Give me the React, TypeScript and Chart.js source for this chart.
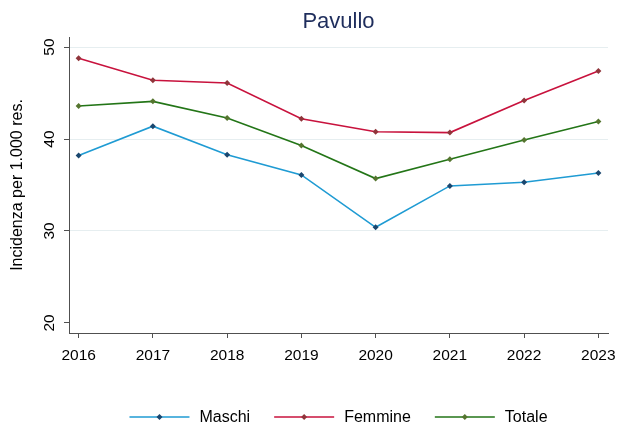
import React, { useEffect, useRef } from "react";
import { Chart, registerables } from "chart.js";

Chart.register(...registerables);

const years = [2016, 2017, 2018, 2019, 2020, 2021, 2022, 2023];
const maschi = [38.2, 41.4, 38.3, 36.1, 30.4, 34.9, 35.3, 36.3];
const femmine = [48.8, 46.4, 46.1, 42.2, 40.8, 40.7, 44.2, 47.4];
const totale = [43.6, 44.1, 42.3, 39.3, 35.7, 37.8, 39.9, 41.9];
const yTicks = [20, 30, 40, 50];
const seriesLabels = ["Maschi", "Femmine", "Totale"];
const titleText = "Pavullo";
const yTitle = "Incidenza per 1.000 res.";

const FONT = '"Liberation Sans", Arial, Helvetica, sans-serif';
const lineColors = ["#1f9bd3", "#c8123d", "#237517"];
const markerColors = ["#1a476f", "#90353b", "#55752f"];
const axisColor = "#505050";

const textPlugin = {
  id: "customText",
  afterDraw(chart: any) {
    const ctx = chart.ctx;
    const ca = chart.chartArea;
    const ys = chart.scales.y;
    const cx = (ca.left + ca.right) / 2;
    ctx.save();
    // title
    ctx.fillStyle = "#1e2d5c";
    ctx.font = `22px ${FONT}`;
    ctx.textAlign = "center";
    ctx.textBaseline = "middle";
    ctx.fillText(titleText, cx, 22);
    // rotated y tick labels
    ctx.fillStyle = "#000";
    ctx.font = `15.5px ${FONT}`;
    yTicks.forEach((v) => {
      const py = ys.getPixelForValue(v);
      ctx.save();
      ctx.translate(ca.left - 19, py);
      ctx.rotate(-Math.PI / 2);
      ctx.fillText(String(v), 0, 0);
      ctx.restore();
    });
    // legend
    ctx.font = `16px ${FONT}`;
    ctx.textAlign = "left";
    const iconW = 60;
    const gapText = 10;
    const gapItem = 24;
    const items = chart.data.datasets.map((d: any, i: number) => ({
      label: d.label,
      line: d.borderColor,
      marker: d.pointBackgroundColor,
      w: iconW + gapText + ctx.measureText(d.label).width,
      i,
    }));
    const total = items.reduce((a: number, it: any) => a + it.w, 0) + gapItem * (items.length - 1);
    let x = cx - total / 2;
    const ly = 417;
    items.forEach((it: any) => {
      ctx.strokeStyle = it.line;
      ctx.lineWidth = 1.6;
      ctx.beginPath();
      ctx.moveTo(x, ly);
      ctx.lineTo(x + iconW, ly);
      ctx.stroke();
      ctx.fillStyle = it.marker;
      const mx = x + iconW / 2;
      ctx.beginPath();
      ctx.moveTo(mx, ly - 3);
      ctx.lineTo(mx + 3, ly);
      ctx.lineTo(mx, ly + 3);
      ctx.lineTo(mx - 3, ly);
      ctx.closePath();
      ctx.fill();
      ctx.fillStyle = "#000";
      ctx.fillText(it.label, x + iconW + gapText, ly + 1);
      x += it.w + gapItem;
    });
    ctx.restore();
  },
};

export default function App() {
  const ref = useRef<HTMLCanvasElement | null>(null);
  useEffect(() => {
    if (!ref.current) return;
    const series = [maschi, femmine, totale];
    const chart = new Chart(ref.current, {
      type: "line",
      data: {
        datasets: series.map((s, i) => ({
          label: seriesLabels[i],
          data: s.map((v, j) => ({ x: years[j], y: v })),
          borderColor: lineColors[i],
          backgroundColor: markerColors[i],
          borderWidth: 1.6,
          pointStyle: "rectRot",
          pointRadius: 3,
          pointBorderWidth: 0,
          pointBackgroundColor: markerColors[i],
          tension: 0,
        })),
      },
      options: {
        animation: false,
        responsive: true,
        maintainAspectRatio: false,
        layout: { padding: { left: 4, right: 9, top: 37, bottom: 0 } },
        plugins: {
          title: { display: false },
          tooltip: { enabled: false },
          legend: { display: false },
        },
        scales: {
          x: {
            type: "linear",
            min: 2015.87,
            max: 2023.13,
            afterBuildTicks: (s: any) => {
              s.ticks = years.map((v) => ({ value: v }));
            },
            afterFit: (s: any) => {
              s.height = 97;
              s.paddingLeft = 0;
              s.paddingRight = 0;
            },
            ticks: {
              color: "#000",
              font: { family: FONT, size: 15.5 },
              padding: 8,
              maxRotation: 0,
              autoSkip: false,
              callback: (v: any) => String(v),
            },
            grid: {
              drawOnChartArea: false,
              drawTicks: true,
              tickLength: 5,
              tickColor: axisColor,
              tickWidth: 1,
            },
            border: { color: axisColor, width: 1 },
          },
          y: {
            min: 18.9,
            max: 51.1,
            afterBuildTicks: (s: any) => {
              s.ticks = yTicks.map((v) => ({ value: v }));
            },
            afterFit: (s: any) => {
              s.width = 65;
            },
            ticks: { display: false },
            title: {
              display: true,
              text: yTitle,
              color: "#000",
              font: { family: FONT, size: 16 },
              padding: { top: 4, bottom: 0 },
            },
            grid: {
              color: (c: any) => (c.tick && c.tick.value === 20 ? "rgba(0,0,0,0)" : "#e6eef0"),
              lineWidth: 1,
              drawTicks: true,
              tickLength: 5,
              tickColor: axisColor,
              tickWidth: 1,
            },
            border: { color: axisColor, width: 1 },
          },
        },
      },
      plugins: [textPlugin],
    } as any);
    return () => chart.destroy();
  }, []);
  return (
    <div style={{ position: "fixed", left: 0, top: 0, width: 617, height: 430, background: "#fff" }}>
      <canvas ref={ref} />
    </div>
  );
}
